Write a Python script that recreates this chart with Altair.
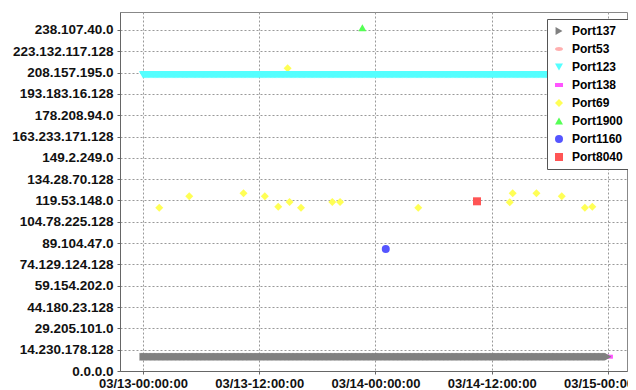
import altair as alt
import pandas as pd

# ---- series definitions ----
SERIES = ["Port137", "Port53", "Port123", "Port138", "Port69", "Port1900", "Port1160", "Port8040"]
COLORS = ["#808080", "#FFAFAF", "#55FFFF", "#FF55FF", "#FFFF55", "#55FF55", "#5555FF", "#FF5555"]
SHAPES = ["triangle-right", "M-1,0A1,0.5,0,1,1,1,0A1,0.5,0,1,1,-1,0Z", "triangle-down",
          "M-1,-0.5H1V0.5H-1Z", "diamond", "triangle-up", "circle", "square"]
SIZES = [64, 64, 64, 64, 105, 85, 70, 56]

# ---- data ----
# periodic broadcast / poll traffic (dense bands)
PORT137_IP = "10.0.0.255"
PORT137_START, PORT137_END, PORT137_EVERY = "2013-03-13T00:00:00Z", "2013-03-15T00:00:00Z", "5min"
PORT123_IP = "207.46.232.182"
PORT123_START, PORT123_END, PORT123_EVERY = "2013-03-13T00:00:00Z", "2013-03-15T00:00:00Z", "5min"

PORT53_TIMES = ["2013-03-13T08:10:00Z", "2013-03-14T03:30:00Z", "2013-03-14T17:45:00Z"]
PORT53_IPS = ["10.0.0.1", "10.0.0.1", "10.0.0.1"]

PORT138_TIMES = ["2013-03-15T00:06:00Z"]
PORT138_IPS = ["10.0.0.255"]

PORT69_TIMES = ["2013-03-13T01:41:00Z", "2013-03-13T04:47:00Z", "2013-03-13T10:23:00Z",
                "2013-03-13T12:35:00Z", "2013-03-13T13:58:00Z", "2013-03-13T14:56:00Z",
                "2013-03-13T15:08:00Z", "2013-03-13T16:19:00Z", "2013-03-13T19:33:00Z",
                "2013-03-13T20:21:00Z", "2013-03-14T04:25:00Z", "2013-03-14T13:52:00Z",
                "2013-03-14T14:10:00Z", "2013-03-14T16:37:00Z", "2013-03-14T19:14:00Z",
                "2013-03-14T21:37:00Z", "2013-03-14T22:23:00Z"]
PORT69_IPS = ["114.44.10.5", "122.33.20.8", "124.56.3.1",
              "122.33.90.4", "114.220.7.9", "211.169.40.2",
              "118.36.11.6", "114.44.80.3", "118.36.50.7",
              "118.36.70.1", "114.44.30.9", "117.246.5.5",
              "124.56.60.2", "124.56.9.8", "122.33.44.4",
              "114.44.60.6", "114.220.33.3"]

PORT1900_TIMES = ["2013-03-13T22:39:00Z"]
PORT1900_IPS = ["239.255.255.250"]

PORT1160_TIMES = ["2013-03-14T01:04:00Z"]
PORT1160_IPS = ["85.77.12.4"]

PORT8040_TIMES = ["2013-03-14T10:29:00Z"]
PORT8040_IPS = ["118.166.2.10"]

Y_TICKS = [i * 250000000 for i in range(17)]


def ip_to_int(ip):
    a, b, c, d = (int(p) for p in ip.split("."))
    return ((a * 256 + b) * 256 + c) * 256 + d


def dense(start, end, every):
    return [t.strftime("%Y-%m-%dT%H:%M:%SZ") for t in pd.date_range(start, end, freq=every)]


t137 = dense(PORT137_START, PORT137_END, PORT137_EVERY)
t123 = dense(PORT123_START, PORT123_END, PORT123_EVERY)

groups = {
    "Port137": (t137, [PORT137_IP] * len(t137)),
    "Port53": (PORT53_TIMES, PORT53_IPS),
    "Port123": (t123, [PORT123_IP] * len(t123)),
    "Port138": (PORT138_TIMES, PORT138_IPS),
    "Port69": (PORT69_TIMES, PORT69_IPS),
    "Port1900": (PORT1900_TIMES, PORT1900_IPS),
    "Port1160": (PORT1160_TIMES, PORT1160_IPS),
    "Port8040": (PORT8040_TIMES, PORT8040_IPS),
}

rows = []
for s in reversed(SERIES):  # first series drawn last (on top)
    times, ips = groups[s]
    for t, ip in zip(times, ips):
        rows.append({"series": s, "time": t, "ip": ip_to_int(ip)})
df = pd.DataFrame(rows)

FONT = "Liberation Sans"

legend = alt.Legend(
    title=None, orient="none", legendX=427, legendY=7,
    labelFont=FONT, labelFontWeight="bold", labelFontSize=12, labelColor="black",
    symbolSize=50, symbolStrokeWidth=0, rowPadding=6, padding=6, labelOffset=7,
    strokeColor="#555555", fillColor="white",
)

ip_label = ("floor(datum.value/16777216) + '.' + (floor(datum.value/65536)%256) + '.' + "
            "(floor(datum.value/256)%256) + '.' + (datum.value%256)")

x_vals = [alt.DateTime(year=2013, month=3, date=13 + i // 2, hours=12 * (i % 2), utc=True) for i in range(5)]

chart = alt.Chart(df).mark_point(filled=True, opacity=1, strokeWidth=0).encode(
    x=alt.X("time:T",
            scale=alt.Scale(type="utc", domain=[
                alt.DateTime(year=2013, month=3, date=12, hours=21, minutes=38, utc=True),
                alt.DateTime(year=2013, month=3, date=15, hours=1, minutes=58, utc=True)]),
            axis=alt.Axis(title=None, values=x_vals, format="%m/%d-%H:%M:%S",
                          labelPadding=3, tickSize=3, labelFontSize=13)),
    y=alt.Y("ip:Q",
            scale=alt.Scale(domain=[0, 4211100000], nice=False, zero=True),
            axis=alt.Axis(title=None, values=Y_TICKS, labelExpr=ip_label, tickSize=3,
                          labelPadding=4, labelFontSize=13.5)),
    color=alt.Color("series:N", scale=alt.Scale(domain=SERIES, range=COLORS), legend=legend),
    shape=alt.Shape("series:N", scale=alt.Scale(domain=SERIES, range=SHAPES), legend=legend),
    size=alt.Size("series:N", scale=alt.Scale(domain=SERIES, range=SIZES), legend=None),
).properties(
    width=507, height=359,
    autosize=alt.AutoSizeParams(type="none"),
    padding={"left": 112, "top": 4, "right": 1, "bottom": 19},
).configure_view(
    stroke="#888888", strokeWidth=1,
).configure_axis(
    grid=True, gridColor="#999999", gridDash=[2, 2], gridWidth=1,
    domainColor="#666666", tickColor="#666666",
    labelFont=FONT, labelFontWeight="bold", labelColor="#111111",
)

chart.save("out.html", embed_options={"renderer": "svg", "actions": False})
